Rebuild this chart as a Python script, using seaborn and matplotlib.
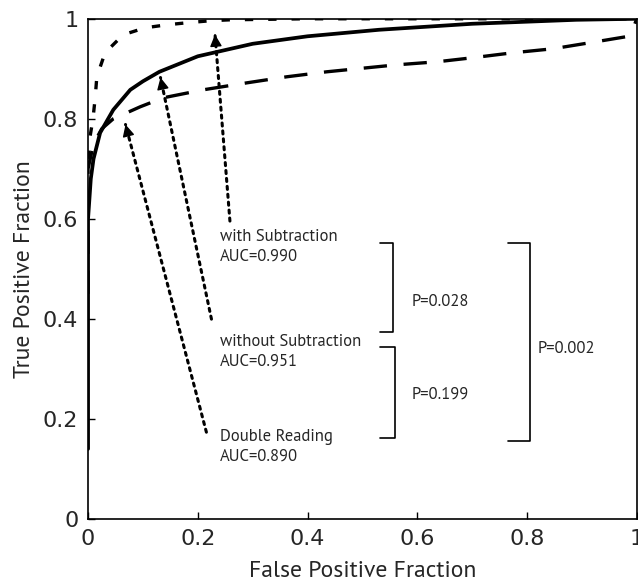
import matplotlib
matplotlib.use("Agg")
import matplotlib.pyplot as plt
import seaborn as sns

# ROC curves
with_fpf = [0, 0.003, 0.009, 0.013, 0.016, 0.031, 0.064, 0.104, 0.144, 0.18, 0.222, 0.26, 0.4, 0.6, 0.8, 1.0]
with_tpf = [0.72, 0.76, 0.80, 0.842, 0.884, 0.932, 0.968, 0.982, 0.988, 0.992, 0.996, 0.998, 1.0, 1.0, 1.0, 1.0]

without_fpf = [0, 0, 0.005, 0.01, 0.022, 0.046, 0.077, 0.1, 0.13, 0.2, 0.3, 0.4, 0.53, 0.7, 0.89, 1.0]
without_tpf = [0.14, 0.6, 0.68, 0.72, 0.772, 0.818, 0.858, 0.875, 0.894, 0.925, 0.95, 0.965, 0.978, 0.99, 0.998, 1.0]

double_fpf = [0, 0, 0.01, 0.025, 0.046, 0.095, 0.137, 0.21, 0.29, 0.362, 0.435, 0.508, 0.563,
              0.636, 0.70, 0.774, 0.847, 0.914, 0.98, 0.996, 1.0]
double_tpf = [0.45, 0.7, 0.75, 0.78, 0.80, 0.824, 0.842, 0.858, 0.872, 0.884, 0.894, 0.902, 0.908,
              0.914, 0.922, 0.932, 0.94, 0.952, 0.964, 0.988, 1.0]

labels = ["with Subtraction\nAUC=0.990", "without Subtraction\nAUC=0.951", "Double Reading\nAUC=0.890"]
p_values = ["P=0.028", "P=0.199", "P=0.002"]
ticks = [0, 0.2, 0.4, 0.6, 0.8, 1]
tick_labels = ["0", "0.2", "0.4", "0.6", "0.8", "1"]

sns.set_theme(style="ticks")
plt.rcParams['font.family'] = ['DejaVu Sans']
plt.rcParams['xtick.direction'] = 'in'
plt.rcParams['ytick.direction'] = 'in'

fig = plt.figure(figsize=(6.38, 5.87), dpi=100)
ax = fig.add_axes([0.138, 0.116, 0.86, 0.852])

sns.lineplot(x=with_fpf, y=with_tpf, ax=ax, color='black', lw=2.4, sort=False, estimator=None,
             linestyle=(0, (2.5, 4.5)))
sns.lineplot(x=without_fpf, y=without_tpf, ax=ax, color='black', lw=2.7, sort=False, estimator=None)
sns.lineplot(x=double_fpf, y=double_tpf, ax=ax, color='black', lw=2.4, sort=False, estimator=None,
             linestyle=(0, (7, 5)))

ax.set_xlim(0, 1)
ax.set_ylim(0, 1)
ax.set_xticks(ticks)
ax.set_xticklabels(tick_labels)
ax.set_yticks(ticks)
ax.set_yticklabels(tick_labels)
ax.tick_params(labelsize=16, length=5, width=1, color='black')
ax.tick_params(axis='y', pad=7)
ax.tick_params(axis='x', pad=7)
for s in ax.spines.values():
    s.set_color('black')
    s.set_linewidth(1.2)
lab_font = dict(family=['PT Sans', 'DejaVu Sans'], fontsize=17)
ax.set_xlabel("False Positive Fraction", labelpad=9, **lab_font)
ax.set_ylabel("True Positive Fraction", labelpad=6, **lab_font)

txt_font = dict(family=['PT Sans', 'DejaVu Sans'], fontsize=12)
dots = dict(arrowstyle='-', linestyle=(0, (1, 1.6)), lw=2.2, color='black')
head = dict(arrowstyle='-|>', lw=1, color='black', mutation_scale=18)
tips = [(0.231, 0.974), (0.131, 0.888), (0.067, 0.794)]
tails = [(0.259, 0.59), (0.226, 0.394), (0.217, 0.168)]
text_y = [0.545, 0.334, 0.144]
for lab, tip, tail, ty in zip(labels, tips, tails, text_y):
    ax.annotate("", xy=tip, xytext=tail, arrowprops=dots)
    # short solid stub that only carries the filled head
    fx = tip[0] + (tail[0] - tip[0]) * 0.03
    fy = tip[1] + (tail[1] - tip[1]) * 0.03
    ax.annotate("", xy=tip, xytext=(fx, fy), arrowprops=head)
    ax.text(0.24, ty, lab, va='center', ha='left', linespacing=1.3, **txt_font)

# brackets
br = dict(color='black', lw=1.2)
ax.plot([0.532, 0.556, 0.556, 0.532], [0.552, 0.552, 0.374, 0.374], **br)
ax.plot([0.532, 0.559, 0.559, 0.532], [0.344, 0.344, 0.162, 0.162], **br)
ax.plot([0.765, 0.805, 0.805, 0.765], [0.552, 0.552, 0.156, 0.156], **br)
ax.text(0.59, 0.434, p_values[0], va='center', **txt_font)
ax.text(0.59, 0.248, p_values[1], va='center', **txt_font)
ax.text(0.82, 0.34, p_values[2], va='center', **txt_font)

fig.savefig("out.png", dpi=100)
